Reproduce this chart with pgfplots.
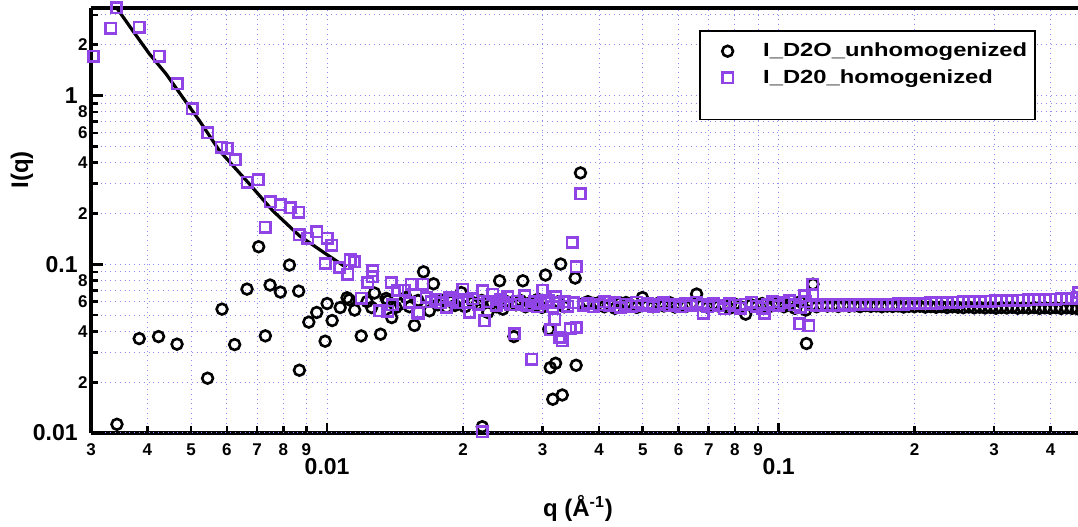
\documentclass[border=0pt]{standalone}
\usepackage{fontspec}
\setmainfont{Liberation Sans}
\usepackage{pgfplots}
\usepackage{graphicx}
\pgfplotsset{compat=1.18}
\definecolor{mypurple}{RGB}{145,68,230}
\definecolor{gridblue}{RGB}{140,140,240}

\pgfplotstableread{
q I
0.003425 0.01126
0.003837 0.03627
0.004234 0.03728
0.004652 0.03361
0.005437 0.02112
0.005852 0.0542
0.006241 0.03342
0.006648 0.07125
0.007055 0.127
0.0073 0.03764
0.007477 0.0753
0.007881 0.0684
0.008252 0.0989
0.008651 0.0693
0.008682 0.02355
0.00911 0.0454
0.009484 0.0518
0.0099 0.035
0.01 0.0585
0.01026 0.0464
0.01069 0.0554
0.01107 0.0633
0.0112 0.0616
0.01151 0.0535
0.0119 0.0376
0.01226 0.0601
0.01255 0.0554
0.01273 0.0675
0.01313 0.0385
0.01351 0.0627
0.01362 0.0607
0.0139 0.0483
0.0142 0.0555
0.01453 0.0580
0.01496 0.0635
0.01522 0.0560
0.01561 0.0434
0.0159 0.0610
0.01635 0.0902
0.01685 0.0530
0.0172 0.0766
0.0176 0.0575
0.0180 0.0610
0.0184 0.0555
0.0188 0.0600
0.0192 0.0570
0.01981 0.068
0.0202 0.0560
0.02102 0.0593
0.0215 0.0580
0.0220 0.0610
0.02206 0.0109
0.02269 0.0518
0.0232 0.0590
0.0237 0.0560
0.0241 0.0798
0.02449 0.0542
0.0250 0.0600
0.02592 0.0373
0.0262 0.0575
0.0268 0.0610
0.02713 0.0798
0.0275 0.0560
0.0281 0.0590
0.0287 0.0570
0.0293 0.0620
0.0299 0.0555
0.03045 0.0863
0.03097 0.0412
0.0312 0.0244
0.0316 0.01585
0.03206 0.0259
0.0325 0.0600
0.0329 0.1003
0.03317 0.0168
0.0335 0.0560
0.03543 0.0828
0.0356 0.0252
0.0364 0.3477
0.0370 0.0585
0.0378 0.0600
0.0389 0.0585
0.0400 0.0593
0.0411 0.0560
0.0422 0.0575
0.0434 0.0548
0.0446 0.0590
0.0459 0.0593
0.0472 0.0570
0.0485 0.0555
0.0499 0.0635
0.0513 0.0572
0.0527 0.0560
0.0542 0.0588
0.0557 0.0566
0.0573 0.0593
0.0589 0.0558
0.0606 0.0578
0.0623 0.0562
0.0640 0.0583
0.0658 0.0666
0.0677 0.0570
0.0696 0.0556
0.0716 0.0580
0.0736 0.0565
0.0757 0.0572
0.0778 0.0548
0.0800 0.0580
0.0822 0.0560
0.0845 0.0506
0.0869 0.0575
0.0894 0.0562
0.0919 0.0585
0.0945 0.0555
0.0971 0.0570
0.0999 0.0590
0.1027 0.0560
0.1056 0.0578
0.1086 0.0548
0.1116 0.0600
0.1148 0.0535
0.1152 0.0339
0.1191 0.0762
0.1180 0.0570
0.1213 0.0560
0.1247 0.0572
0.1282 0.0565
0.1318 0.0568
0.1355 0.0562
0.1393 0.0570
0.1432 0.0564
0.1473 0.0567
0.1514 0.0561
0.1557 0.0569
0.1600 0.0563
0.1645 0.0566
0.1692 0.0560
0.1739 0.0565
0.1788 0.0562
0.1838 0.0566
0.1890 0.0558
0.1943 0.0563
0.1998 0.0560
0.2054 0.0564
0.2112 0.0557
0.2171 0.0561
0.2232 0.0556
0.2295 0.0560
0.2359 0.0554
0.2425 0.0559
0.2494 0.0556
0.2564 0.0553
0.2636 0.0558
0.2710 0.0552
0.2786 0.0556
0.2864 0.0551
0.2945 0.0555
0.3027 0.0549
0.3112 0.0554
0.3200 0.0551
0.3290 0.0555
0.3382 0.0549
0.3477 0.0553
0.3575 0.0550
0.3675 0.0554
0.3778 0.0548
0.3885 0.0552
0.3994 0.0549
0.4106 0.0553
0.4221 0.0547
0.4340 0.0551
0.4462 0.0548
0.4587 0.0545
0.4700 0.0550
}\unhomog

\pgfplotstableread{
q I
0.003040 1.711
0.003322 2.508
0.003418 3.315
0.003837 2.543
0.004251 1.711
0.004652 1.173
0.005022 0.834
0.005437 0.6006
0.005822 0.4934
0.006004 0.4866
0.006254 0.4153
0.006648 0.3059
0.007033 0.316
0.007300 0.1654
0.007477 0.2349
0.007881 0.2245
0.008294 0.2156
0.008651 0.2029
0.008682 0.1491
0.009059 0.1423
0.009484 0.1559
0.0100 0.1423
0.01024 0.130
0.00990 0.1011
0.01065 0.0957
0.01111 0.0874
0.01124 0.106
0.01150 0.1034
0.0119 0.0630
0.01230 0.0780
0.01262 0.0915
0.01259 0.0842
0.01306 0.0530
0.01362 0.0526
0.01386 0.0780
0.01393 0.0575
0.01434 0.0703
0.01484 0.0703
0.01522 0.0593
0.01535 0.0763
0.01588 0.0518
0.01594 0.0513
0.01628 0.0763
0.01657 0.0635
0.0170 0.0600
0.0174 0.0620
0.0178 0.0590
0.01835 0.0554
0.01866 0.0635
0.0190 0.0610
0.0195 0.0590
0.01998 0.0713
0.0205 0.0600
0.02067 0.0518
0.0210 0.0625
0.0216 0.0580
0.02206 0.01014
0.02212 0.0697
0.0223 0.0462
0.0227 0.0600
0.02328 0.0666
0.0237 0.0570
0.0242 0.0615
0.0246 0.0590
0.0251 0.0640
0.0255 0.0575
0.0260 0.0388
0.0264 0.0605
0.0269 0.0580
0.0274 0.0650
0.0278 0.0570
0.0284 0.0274
0.0288 0.0600
0.0293 0.0560
0.0297 0.0585
0.0300 0.0700
0.0305 0.0590
0.0309 0.0610
0.03125 0.0409
0.0316 0.0560
0.0319 0.0473
0.0321 0.0640
0.0326 0.0590
0.03272 0.0368
0.03317 0.0352
0.0336 0.0600
0.0341 0.0565
0.03454 0.0416
0.0349 0.1347
0.0352 0.0590
0.0356 0.0422
0.0356 0.0966
0.0364 0.261
0.0370 0.0570
0.0378 0.0585
0.0389 0.0560
0.0400 0.0575
0.0411 0.0600
0.0422 0.0570
0.0434 0.0592
0.0446 0.0555
0.0459 0.0580
0.0472 0.0563
0.0485 0.0595
0.0499 0.0570
0.0513 0.0585
0.0527 0.0562
0.0542 0.0578
0.0557 0.0590
0.0573 0.0568
0.0589 0.0580
0.0606 0.0560
0.0623 0.0585
0.0640 0.0570
0.0658 0.0595
0.0677 0.0575
0.0680 0.0510
0.0696 0.0560
0.0716 0.0582
0.0736 0.0568
0.0757 0.0545
0.0778 0.0585
0.0800 0.0572
0.0822 0.0550
0.0845 0.0580
0.0869 0.0595
0.0894 0.0565
0.0919 0.0548
0.0930 0.0510
0.0945 0.0578
0.0971 0.0600
0.0999 0.0570
0.1027 0.0590
0.1056 0.0610
0.1086 0.0575
0.1113 0.0444
0.1116 0.0555
0.1140 0.0650
0.1148 0.0600
0.1165 0.0432
0.1191 0.0762
0.1191 0.0662
0.1180 0.0574
0.1213 0.0570
0.1247 0.0575
0.1282 0.0571
0.1318 0.0576
0.1355 0.0572
0.1393 0.0577
0.1432 0.0573
0.1473 0.0578
0.1514 0.0574
0.1557 0.0579
0.1600 0.0575
0.1645 0.0580
0.1692 0.0577
0.1739 0.0581
0.1788 0.0578
0.1838 0.0583
0.1890 0.0580
0.1943 0.0585
0.1998 0.0583
0.2054 0.0588
0.2112 0.0586
0.2171 0.0591
0.2232 0.0589
0.2295 0.0594
0.2359 0.0592
0.2425 0.0597
0.2494 0.0595
0.2564 0.0600
0.2636 0.0598
0.2710 0.0602
0.2786 0.0601
0.2864 0.0605
0.2945 0.0603
0.3027 0.0607
0.3112 0.0606
0.3200 0.0610
0.3290 0.0609
0.3382 0.0613
0.3477 0.0612
0.3575 0.0616
0.3675 0.0615
0.3778 0.0619
0.3885 0.0618
0.3994 0.0622
0.4106 0.0621
0.4221 0.0625
0.4340 0.0624
0.4462 0.0628
0.4587 0.0632
0.4620 0.0680
}\homog

\pgfplotstableread{
q I
0.003418 3.315
0.003708 2.431
0.004038 1.768
0.004397 1.345
0.004786 0.977
0.005212 0.7105
0.005773 0.4717
0.006728 0.2992
0.007577 0.2077
0.008682 0.1476
0.00995 0.1149
0.01102 0.0957
}\fitline

\begin{document}
\begin{tikzpicture}
\begin{axis}[
  xmode=log, ymode=log,
  scale only axis, width=493.5pt, height=212.5pt,
  xmin=0.003, xmax=0.46, ymin=0.01, ymax=3.3,
  clip=false,
  axis x line*=box, axis y line*=left,
  axis line style={line width=1.8pt, black},
  xtick pos=left, ytick pos=left,
  tick align=inside,
  major tick length=3.5pt, minor tick length=3.5pt,
  tick style={black, line width=1.3pt},
  /pgf/number format/assume math mode=true,
  xtick={0.003,0.004,0.005,0.006,0.007,0.008,0.009,0.02,0.03,0.04,0.05,0.06,0.07,0.08,0.09,0.2,0.3,0.4},
  xticklabels={3,4,5,6,7,8,9,2,3,4,5,6,7,8,9,2,3,4},
  xticklabel style={font=\fontsize{8.5}{10}\selectfont\bfseries, inner sep=0pt, yshift=-5pt},
  extra x ticks={0.01,0.1},
  extra x tick labels={0.01,0.1},
  extra x tick style={major tick length=5pt, xticklabel style={font=\fontsize{11.5}{13}\selectfont\bfseries, yshift=-7.5pt}},
  ytick={0.02,0.04,0.06,0.08,0.2,0.4,0.6,0.8,2},
  yticklabels={2,4,6,8,2,4,6,8,2},
  minor ytick={0.03,0.05,0.07,0.09,0.3,0.5,0.7,0.9,3},
  yticklabel style={font=\fontsize{8.5}{10}\selectfont\bfseries, inner sep=0pt, xshift=-1.5pt},
  extra y ticks={0.01,0.1,1},
  extra y tick labels={0.01,0.1,1},
  extra y tick style={major tick length=6pt, yticklabel style={font=\fontsize{11.5}{13}\selectfont\bfseries, xshift=-5pt}},
  grid=both,
  major grid style={gridblue, dotted, line width=0.5pt},
  minor grid style={gridblue, dotted, line width=0.5pt},
  xlabel={q (Å\textsuperscript{-1})},
  xlabel style={font=\fontsize{12}{14}\selectfont\bfseries, at={(axis description cs:0.4934,-0.1765)}, anchor=center},
  ylabel={I(q)},
  ylabel style={font=\fontsize{12}{14}\selectfont\bfseries, at={(axis description cs:-0.0699,0.619)}, anchor=center},
  legend style={at={(axis description cs:0.9574,0.9482)}, anchor=north east, draw=black, line width=0.8pt,
    font=\fontsize{9.5}{11}\selectfont\bfseries, inner xsep=6pt, inner ysep=4pt, row sep=1pt,
    /tikz/every odd column/.append style={column sep=12pt}},
  legend cell align=left,
  legend image code/.code={\path (-7.5pt,0pt) (3.4pt,0pt); \draw[#1] plot coordinates {(0pt,0pt)};},
]
\addplot[only marks, mark=o, draw=black, mark size=2.7pt, mark options={line width=1.3pt, draw=black}] table[x=q,y=I] {\unhomog};
\addlegendentry{\scalebox{1.25}[1]{I\_D2O\_unhomogenized\kern-3.2pt}}
\addplot[only marks, mark=square, draw=mypurple, mark size=2.6pt, mark options={line width=1.3pt, draw=mypurple}] table[x=q,y=I] {\homog};
\addlegendentry{\scalebox{1.25}[1]{I\_D20\_homogenized\kern-3.2pt}}
\addlegendimage{empty legend}
\addlegendentry{\rule[-4pt]{0pt}{8pt}}
\addplot[black, line width=1.6pt, no marks, forget plot] table[x=q,y=I] {\fitline};
\end{axis}
\path (current axis.south west) ++(-45.5pt,-47pt) coordinate (bbA);
\path (current axis.north east) ++(0pt,4pt) coordinate (bbB);
\pgfresetboundingbox
\useasboundingbox (bbA) rectangle (bbB);
\end{tikzpicture}
\end{document}
